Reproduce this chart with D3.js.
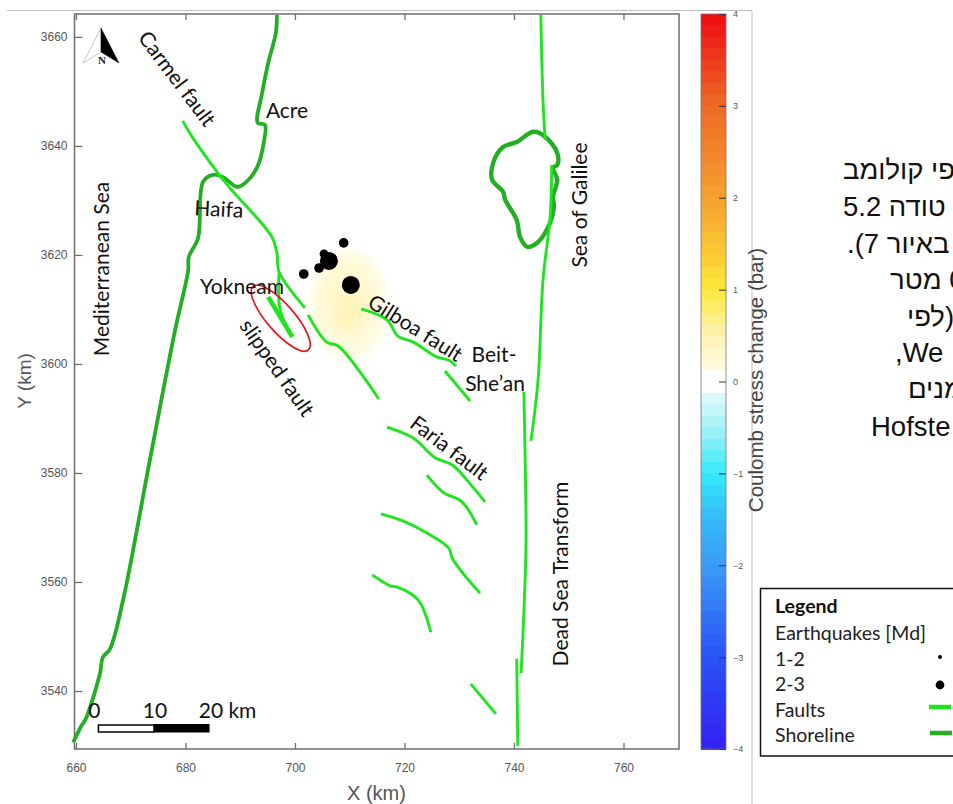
<!DOCTYPE html>
<html><head><meta charset="utf-8">
<script src="https://cdn.jsdelivr.net/npm/d3@7"></script>
<style>html,body{margin:0;padding:0;background:#fff;overflow:hidden}svg{display:block}</style>
</head><body><svg id="c" width="953" height="804"></svg>
<script>
// ---- data (map coordinates in km) ----
const xTicks=[660,680,700,720,740,760];
const yTicks=[3540,3560,3580,3600,3620,3640,3660];
const stressTicks=[-4,-3,-2,-1,0,1,2,3,4];
const stressStopValues=[-4,-3,-2,-1.5,-1,-0.5,-0.16,-0.13,0.13,0.16,0.5,1,1.5,2,3,4];
const stressStopColors=["#3420f2","#2a52f5","#3a9cf6","#35baf9","#34eaf8","#a6f2f6","#dcfafd","#ffffff","#ffffff","#fffbe0","#fff3b4","#fde83a","#f9c232","#f5a030","#ee6a25","#ee0a12"];
const shoreline=[[659.5,3530.6],[661.1,3533.8],[661.8,3534.9],[664.4,3543.3],[664.9,3546.2],[666.2,3547.7],[668.6,3556.7],[673.5,3582.4],[678.1,3606.2],[680.5,3617.2],[680.6,3619.6],[682.3,3623.1],[683.2,3633.4],[685.0,3634.7],[686.8,3634.3],[689.4,3632.5],[690.9,3633.2],[693.1,3636.1],[694.3,3640.6],[694.5,3643.9],[693.2,3644.2],[694.0,3649.7],[695.1,3655.2],[696.5,3660.7],[696.7,3664.0]];
const lake=[[743.5,3642.6],[745.7,3641.7],[747.9,3638.7],[747.9,3636.5],[747.1,3636.0],[747.9,3633.8],[747.1,3630.6],[747.3,3628.8],[746.0,3624.6],[744.2,3622.2],[742.4,3621.5],[741.1,3623.3],[740.5,3626.4],[738.4,3630.1],[738.0,3631.6],[736.0,3633.8],[736.2,3636.9],[738.0,3639.8],[740.5,3640.7]];
const carmelFault=[[679.5,3644.6],[681.2,3641.7],[685.8,3635.2],[688.1,3632.3],[695.8,3623.3],[696.7,3620.4],[697.1,3616.9],[701.8,3610.3]];
const carmelFaultSouth=[[702.4,3609.0],[705.8,3604.0],[707.9,3603.3],[715.3,3593.6]];
const slippedBranch=[[697.1,3616.9],[697.3,3609.9],[699.5,3605.0]];
const slippedFault=[[695.1,3612.3],[699.5,3605.0]];
const gilboaFault=[[712.1,3610.1],[716.8,3608.1],[718.8,3605.1],[721.6,3604.0],[725.9,3601.3],[728.3,3600.6],[729.4,3599.6]];
const beitFault=[[727.4,3598.7],[732.0,3593.2]];
const fariaFault=[[716.8,3588.4],[721.6,3586.4],[725.6,3582.8],[728.7,3581.5],[732.5,3577.4],[734.7,3574.7]];
const fault2=[[724.1,3579.6],[727.0,3576.5],[730.5,3574.7],[733.2,3570.5]];
const fault3=[[715.7,3572.5],[719.7,3571.2],[724.1,3569.0],[728.1,3566.2],[728.7,3564.4],[731.4,3560.7],[733.8,3558.0]];
const fault4=[[714.1,3561.3],[717.4,3559.3],[718.6,3559.1],[722.5,3556.7],[724.8,3550.8]];
const fault5=[[732.1,3541.3],[736.7,3535.8]];
const dstMain=[[741.8,3594.9],[742.0,3584.8],[742.2,3567.2],[741.8,3554.3],[741.3,3543.3]];
const dstLower=[[740.5,3545.9],[740.7,3529.9]];
const dstUpper=[[744.9,3664.0],[745.3,3648.4],[745.7,3641.1]];
const dstGalilee=[[746.9,3636.5],[746.6,3627.0],[745.3,3615.4],[744.4,3597.1],[743.1,3585.9]];
const faults=[carmelFault,carmelFaultSouth,slippedBranch,gilboaFault,beitFault,fariaFault,fault2,fault3,fault4,fault5,dstMain,dstLower,dstUpper,dstGalilee];
const quakeX=[708.9,701.6,704.4,705.3,706.2,710.2];
const quakeY=[3622.2,3616.5,3617.6,3620.2,3618.9,3614.5];
const quakeMag=[2.1,2.1,2.1,2.0,3.0,3.0];
const fieldX=[709.9,709.7,709.9];
const fieldY=[3610.8,3611.5,3609.8];
const fieldRx=[7.0,5.0,2.6];
const fieldRy=[10.0,7.0,3.2];
const fieldStress=[0.17,0.28,0.45];
const ellipseCentre=[697.4,3608.4];
const ellipseAxes=[7.7,2.5];
const scaleKm=[0,10,20];
const hebrewLines=["פי קולומב","טודה 5.2","באיור 7).","0\u00a0מטר","(לפי","We,","מנים"];
const legendLabels=["Earthquakes [Md]","1-2","2-3","Faults","Shoreline"];
const legendMags=[1,2];

// ---- scales ----
const svg=d3.select("#c");
const x=d3.scaleLinear().domain([659.73,770.14]).range([74.5,679]);
const y=d3.scaleLinear().domain([3664.2,3529.36]).range([14,749]);
const sy=d3.scaleLinear().domain([-4,4]).range([749,14]);
const color=d3.scaleLinear().domain(stressStopValues).range(stressStopColors);
const r=d3.scaleLinear().domain([1,2,3]).range([2,4.4,9]);
const line=d3.line().x(d=>x(d[0])).y(d=>y(d[1])).curve(d3.curveCatmullRom.alpha(0.5));
const LAB="Lato, 'Open Sans', sans-serif", GRN="#1fe51f", SHO="#23ae23", AX="#6e6e6e";

const defs=svg.append("defs");
defs.append("filter").attr("id","soft").attr("x","-40%").attr("y","-40%").attr("width","180%").attr("height","180%")
  .append("feGaussianBlur").attr("stdDeviation",4.5);

// outer figure lines
svg.append("path").attr("d","M7,10.5H752V804").attr("fill","none").attr("stroke","#bdbdbd").attr("stroke-width",1);

// stress field
svg.append("g").attr("filter","url(#soft)").selectAll("ellipse").data(fieldX).join("ellipse")
  .attr("cx",d=>x(d)).attr("cy",(d,i)=>y(fieldY[i]))
  .attr("rx",(d,i)=>x(d+fieldRx[i])-x(d)).attr("ry",(d,i)=>y(fieldY[i]-fieldRy[i])-y(fieldY[i]))
  .attr("fill",(d,i)=>color(fieldStress[i]));

// axes
function styleAxis(g){g.selectAll(".domain").remove();g.selectAll("line").attr("stroke",AX).attr("stroke-width",1.3);
  g.selectAll("text").attr("fill","#555").attr("font-family","'Liberation Sans',sans-serif").attr("font-size",12);}
svg.append("g").attr("transform","translate(0,749)").call(d3.axisBottom(x).tickValues(xTicks).tickSize(-6).tickPadding(14).tickFormat(d3.format("d"))).call(styleAxis);
svg.append("g").attr("transform","translate(0,14)").call(d3.axisTop(x).tickValues(xTicks).tickSize(-6).tickFormat("")).call(styleAxis);
svg.append("g").attr("transform","translate(74.5,0)").call(d3.axisLeft(y).tickValues(yTicks).tickSize(-6).tickPadding(7).tickFormat(d3.format("d"))).call(g=>{
  styleAxis(g);g.selectAll("line").attr("x2",8);});
svg.append("rect").attr("x",74.5).attr("y",14).attr("width",604.5).attr("height",735).attr("fill","none").attr("stroke",AX).attr("stroke-width",1.5);

// shoreline, faults
const map=svg.append("g").attr("fill","none").attr("stroke-linejoin","round");
map.append("path").attr("d",line(shoreline)).attr("stroke",SHO).attr("stroke-width",3.8);
map.append("path").attr("d",d3.line().x(d=>x(d[0])).y(d=>y(d[1])).curve(d3.curveCatmullRomClosed.alpha(0.5))(lake)).attr("stroke",SHO).attr("stroke-width",4.4);
map.selectAll("path.f").data(faults).join("path").attr("class","f").attr("d",line).attr("stroke",GRN).attr("stroke-width",2.9);
map.append("path").attr("d",d3.line().x(d=>x(d[0])).y(d=>y(d[1]))(slippedFault)).attr("stroke",GRN).attr("stroke-width",4.6);
map.append("ellipse").attr("transform",`translate(${x(ellipseCentre[0])},${y(ellipseCentre[1])}) rotate(49)`)
  .attr("rx",x(ellipseCentre[0]+ellipseAxes[0])-x(ellipseCentre[0])).attr("ry",x(ellipseCentre[0]+ellipseAxes[1])-x(ellipseCentre[0]))
  .attr("stroke","#e8141c").attr("stroke-width",1.7);

// earthquakes
svg.append("g").selectAll("circle").data(quakeX).join("circle")
  .attr("cx",d=>x(d)).attr("cy",(d,i)=>y(quakeY[i])).attr("r",(d,i)=>r(quakeMag[i])).attr("fill","#000");

// map labels
function label(t,cx,cy,rot,size,fill){svg.append("text").text(t).attr("transform",`translate(${cx},${cy}) rotate(${rot})`)
  .attr("text-anchor","middle").attr("dominant-baseline","central").attr("font-family",LAB).attr("font-size",size).attr("fill",fill||"#111");}
label("Carmel fault",178,78,53,21);
label("Acre",287,109,0,21);
label("Mediterranean Sea",100,269,-90,21);
label("Haifa",219,208,3,21);
label("Yokneam",242,285,0,21);
label("slipped fault",278,367,55,21);
label("Gilboa fault",416,327,32,21);
label("Beit-",494,353,0,21);
label("She\u2019an",495,382,0,21);
label("Faria fault",450,447,37,21);
label("Dead Sea Transform",559,574,-90,21);
label("Sea of Galilee",578,205,-90,21);

// north arrow
const north=svg.append("g");
north.append("path").attr("d","M101,28L83,63L101,52Z").attr("fill","#fff").attr("stroke","#c8c8c8");
north.append("path").attr("d","M101,28L119,63L101,52Z").attr("fill","#000").attr("stroke","#000").attr("stroke-width",.5);
north.append("text").text("N").attr("x",102).attr("y",64).attr("text-anchor","middle").attr("font-family","'Liberation Serif',serif").attr("font-size",11).attr("fill","#222").attr("font-weight","bold");

// scale bar
const sbx=k=>x(664.1+k*1.015);
svg.append("rect").attr("x",sbx(0)).attr("y",725).attr("width",sbx(10)-sbx(0)).attr("height",7).attr("fill","#fff").attr("stroke","#000").attr("stroke-width",1.5);
svg.append("rect").attr("x",sbx(10)).attr("y",724).attr("width",sbx(20)-sbx(10)).attr("height",8.5).attr("fill","#000");
svg.selectAll("text.sb").data(scaleKm).join("text").attr("class","sb")
  .attr("x",d=>sbx(d)-(d===0?4:d===10?-1:-18)).attr("y",718).attr("text-anchor","middle").attr("font-family",LAB).attr("font-size",21).attr("fill","#111")
  .text(d=>d===20?"20 km":d);

// axis titles
svg.append("text").attr("x",347).attr("y",800).attr("font-family","'Liberation Sans',sans-serif").attr("font-size",20).attr("fill","#555").text("X (km)");
svg.append("text").attr("transform","translate(31,381) rotate(-90)").attr("text-anchor","middle").attr("font-family","'Liberation Sans',sans-serif").attr("font-size",19).attr("fill","#555").text("Y (km)");

// colourbar
const bands=d3.range(64);
const bandH=(sy(-4)-sy(4))/64;
svg.append("g").attr("shape-rendering","crispEdges").selectAll("rect").data(bands).join("rect")
  .attr("x",701).attr("width",25).attr("y",d=>14+d*bandH).attr("height",bandH+1)
  .attr("fill",d=>color(4-(d+.5)/8));
svg.append("rect").attr("x",701).attr("y",14).attr("width",25).attr("height",735).attr("fill","none").attr("stroke","#777").attr("stroke-width",.8);
svg.append("g").attr("transform","translate(726,0)")
  .call(d3.axisRight(sy).tickValues(stressTicks).tickSize(-7).tickPadding(7).tickFormat(d3.format("d")))
  .call(g=>{g.select(".domain").remove();g.selectAll("line").attr("stroke","#333");
    g.selectAll("text").attr("fill","#555").attr("font-family","'Liberation Sans',sans-serif").attr("font-size",9);});
svg.append("text").attr("transform","translate(763,380) rotate(-90)").attr("text-anchor","middle")
  .attr("font-family","'Liberation Sans',sans-serif").attr("font-size",20.5).attr("fill","#444").text("Coulomb stress change (bar)");

// clipped Hebrew paragraph
const hebLeft=[843,843,847,890,907,895,908];
const hebBase=[179,216,253,289,326,362,398];
svg.selectAll("text.h").data(hebrewLines).join("text").attr("class","h")
  .attr("x",(d,i)=>hebLeft[i]).attr("y",(d,i)=>hebBase[i]).attr("direction","rtl").attr("text-anchor","end")
  .attr("font-family","'Liberation Sans',sans-serif").attr("font-size",27.5).attr("fill","#111").text(d=>d);
svg.append("text").attr("x",871).attr("y",436).attr("font-family","'Liberation Sans',sans-serif").attr("font-size",27.5).attr("fill","#111").text("Hofste");

// legend
svg.append("path").attr("d","M953,588.5H760.5V756H953").attr("fill","#fff").attr("stroke","#111").attr("stroke-width",1.5);
svg.append("text").attr("x",775).attr("y",613).attr("font-family",LAB).attr("font-weight","bold").attr("font-size",19.5).attr("fill","#111").text("Legend");
svg.selectAll("text.l").data(legendLabels).join("text").attr("class","l")
  .attr("x",775).attr("y",(d,i)=>640+i*25.6).attr("font-family",LAB).attr("font-size",19.5).attr("fill","#222").text(d=>d);
svg.selectAll("circle.l").data(legendMags).join("circle").attr("class","l")
  .attr("cx",940).attr("cy",(d,i)=>657+i*28).attr("r",d=>r(d)).attr("fill","#000");
svg.append("line").attr("x1",929).attr("x2",951).attr("y1",707).attr("y2",707).attr("stroke",GRN).attr("stroke-width",4.5);
svg.append("line").attr("x1",930).attr("x2",952).attr("y1",733).attr("y2",733).attr("stroke",SHO).attr("stroke-width",4.5);
</script></body></html>
